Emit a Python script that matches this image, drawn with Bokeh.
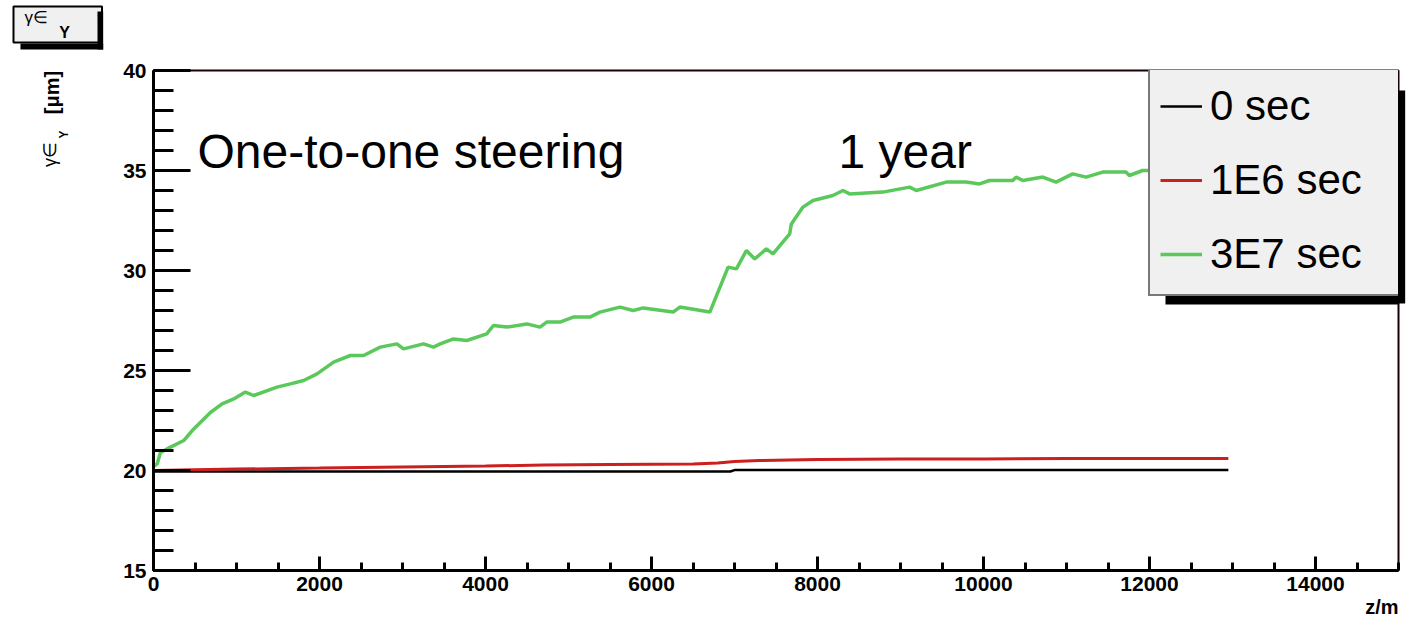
import math
from bokeh.plotting import figure
from bokeh.models import (Range1d, SingleIntervalTicker, Legend, LegendItem,
                          Label, BoxAnnotation)
from bokeh.embed import file_html
from bokeh.resources import INLINE

# ---------------- data ----------------
green_z = [0, 44, 84, 205, 365, 485, 686, 826, 966, 1107, 1207, 1488, 1649, 1809,
           1970, 2170, 2371, 2531, 2732, 2932, 3012, 3253, 3373, 3454, 3614, 3775,
           4015, 4095, 4256, 4497, 4657, 4737, 4898, 5058, 5259, 5379, 5620, 5780,
           5900, 6261, 6341, 6703, 6923, 7023, 7143, 7244, 7384, 7464, 7665, 7685,
           7825, 7946, 8186, 8306, 8387, 8788, 9110, 9190, 9551, 9791, 9952, 10072,
           10353, 10393, 10473, 10714, 10874, 11075, 11235, 11436, 11716, 11757,
           11917, 12200, 12600, 12950]
green_v = [20.2, 20.33, 20.9, 21.17, 21.5, 22.08, 22.9, 23.33, 23.58, 23.92, 23.75,
           24.17, 24.33, 24.5, 24.83, 25.42, 25.75, 25.75, 26.17, 26.33, 26.08,
           26.33, 26.17, 26.33, 26.58, 26.5, 26.83, 27.25, 27.17, 27.33, 27.17,
           27.42, 27.42, 27.67, 27.67, 27.92, 28.17, 28.0, 28.13, 27.92, 28.17,
           27.92, 30.17, 30.08, 31.0, 30.58, 31.08, 30.83, 31.83, 32.33, 33.17,
           33.5, 33.75, 34.0, 33.83, 33.92, 34.17, 34.0, 34.42, 34.42, 34.33, 34.5,
           34.5, 34.67, 34.5, 34.67, 34.42, 34.83, 34.67, 34.92, 34.92, 34.75,
           35.0, 35.0, 35.1, 35.1]

red_z = [0, 1000, 2000, 3000, 4000, 4700, 5500, 6500, 6800, 7000, 7300, 8000,
         9000, 10000, 11000, 12000, 12950]
red_v = [20.0, 20.07, 20.12, 20.18, 20.22, 20.28, 20.3, 20.32, 20.38, 20.45, 20.5,
         20.55, 20.58, 20.58, 20.6, 20.6, 20.6]

black_z = [0, 6950, 7000, 12950]
black_v = [19.95, 19.95, 20.02, 20.02]

series_labels = ["0 sec", "1E6 sec", "3E7 sec"]
series_colors = ["#000000", "#cc1f1f", "#5ac85a"]

x_ticks_interval = 2000
y_ticks_interval = 5

FONT = "Liberation Sans"
BOXFILL = "#f0f0f0"

# ---------------- figure ----------------
p = figure(width=1409, height=622, output_backend="svg", toolbar_location=None,
           title=None,
           x_range=Range1d(0, 15000), y_range=Range1d(15, 40),
           min_border_left=153, min_border_right=11, min_border_top=70,
           min_border_bottom=52)
p.background_fill_color = "white"
p.border_fill_color = "white"
p.outline_line_color = "#1a0000"
p.outline_line_width = 2
p.xgrid.visible = False
p.ygrid.visible = False

# axes
p.xaxis.ticker = SingleIntervalTicker(interval=x_ticks_interval, num_minor_ticks=4)
p.yaxis.ticker = SingleIntervalTicker(interval=y_ticks_interval, num_minor_ticks=5)
for ax in (p.xaxis[0], p.yaxis[0]):
    ax.axis_line_color = "black"
    ax.axis_line_width = 3
    ax.major_tick_line_color = "black"
    ax.minor_tick_line_color = "black"
    ax.major_tick_line_width = 3
    ax.minor_tick_line_width = 3
    ax.major_tick_out = 0
    ax.minor_tick_out = 0
    ax.major_label_text_font = FONT
    ax.major_label_text_font_style = "bold"
    ax.major_label_text_color = "black"
    ax.major_label_text_font_size = "21px"
p.xaxis.major_tick_in = 14
p.xaxis.minor_tick_in = 8
p.xaxis.major_label_standoff = 6
p.yaxis.major_tick_in = 37
p.yaxis.minor_tick_in = 20
p.yaxis.major_label_standoff = 7

# lines
rb = p.line(black_z, black_v, line_color=series_colors[0], line_width=2.5)
rr = p.line(red_z, red_v, line_color=series_colors[1], line_width=3)
rg = p.line(green_z, green_v, line_color=series_colors[2], line_width=3.5)

# helpers: image px -> screen units relative to frame bottom-left
FX0, FY0 = 153, 570
def sx(x):
    return x - FX0
def sy(y):
    return FY0 - y

def strip(x, y, w, h):
    """a plain black rectangle (shadow piece): a tiny black glyph on a black
    padded background box of about w x h canvas pixels; padding is (l, r, t, b)"""
    return Label(x=x, y=y, x_units="canvas", y_units="canvas", text="I",
                 text_font=FONT, text_font_size="6px", text_color="black",
                 text_baseline="top", text_align="left",
                 background_fill_color="black", background_fill_alpha=1,
                 padding=(0, max(w - 2, 0), 0, max(h - 7, 0)))

# legend shadow: bottom part inside the frame, right strip outside it
p.add_layout(BoxAnnotation(left=sx(1165), right=sx(1400), top=sy(90), bottom=sy(304),
                           left_units="screen", right_units="screen",
                           top_units="screen", bottom_units="screen",
                           fill_color="black", fill_alpha=1, line_alpha=0))
p.add_layout(strip(1398, 90, 7, 214), "right")

legend = Legend(items=[LegendItem(label=series_labels[0], renderers=[rb]),
                       LegendItem(label=series_labels[1], renderers=[rr]),
                       LegendItem(label=series_labels[2], renderers=[rg])],
                location=(sx(1148), sy(296)), margin=0, padding=10,
                spacing=14, glyph_width=42, glyph_height=60, label_height=60,
                label_width=180, label_standoff=8,
                label_text_font=FONT, label_text_font_size="42px",
                label_text_color="black",
                border_line_color="black", border_line_width=2,
                background_fill_color=BOXFILL, background_fill_alpha=1)
p.add_layout(legend)

# annotation texts
p.add_layout(Label(x=sx(197), y=sy(151), x_units="screen", y_units="screen",
                   text="One-to-one steering", text_font=FONT,
                   text_font_size="48px", text_color="black",
                   text_baseline="middle", text_align="left"))
p.add_layout(Label(x=sx(838), y=sy(151), x_units="screen", y_units="screen",
                   text="1 year", text_font=FONT,
                   text_font_size="48px", text_color="black",
                   text_baseline="middle", text_align="left"))

# ---- texts outside the frame: placed in side panels, canvas units ----
# x axis title
p.add_layout(Label(x=1398, y=606, x_units="canvas", y_units="canvas",
                   text="z/m", text_font=FONT, text_font_style="bold",
                   text_font_size="20px", text_color="black",
                   text_baseline="middle", text_align="right"), "below")

# y axis title (rotated)
p.add_layout(Label(x=51, y=92, x_units="canvas", y_units="canvas",
                   text="[\u03bcm]", text_font=FONT, text_font_style="bold",
                   text_font_size="20px", text_color="black", angle=math.pi / 2,
                   text_baseline="middle", text_align="center"), "left")
p.add_layout(Label(x=49, y=154, x_units="canvas", y_units="canvas",
                   text="\u03b3\u2208", text_font=FONT,
                   text_font_size="18px", text_color="black", angle=math.pi / 2,
                   text_baseline="middle", text_align="center"), "left")
p.add_layout(Label(x=63, y=134, x_units="canvas", y_units="canvas",
                   text="Y", text_font=FONT, text_font_style="bold",
                   text_font_size="12px", text_color="black", angle=math.pi / 2,
                   text_baseline="middle", text_align="center"), "left")

# top-left title box with shadow
p.add_layout(strip(97, 11, 6, 39), "left")       # right shadow strip
p.add_layout(strip(20, 43, 83, 7), "above")      # bottom shadow strip
p.add_layout(Label(x=13, y=6, x_units="canvas", y_units="canvas",
                   text="\u03b3\u2208", text_font=FONT, text_font_size="17px",
                   text_color="black", text_baseline="top", text_align="left",
                   background_fill_color=BOXFILL, background_fill_alpha=1,
                   border_line_color="black", border_line_width=2,
                   padding=(11, 54, 1, 16)), "above")
p.add_layout(Label(x=64, y=32, x_units="canvas", y_units="canvas",
                   text="Y", text_font=FONT, text_font_style="bold",
                   text_font_size="16px", text_color="black",
                   text_baseline="middle", text_align="center"), "left")

open("out.html", "w").write(file_html(p, INLINE))
